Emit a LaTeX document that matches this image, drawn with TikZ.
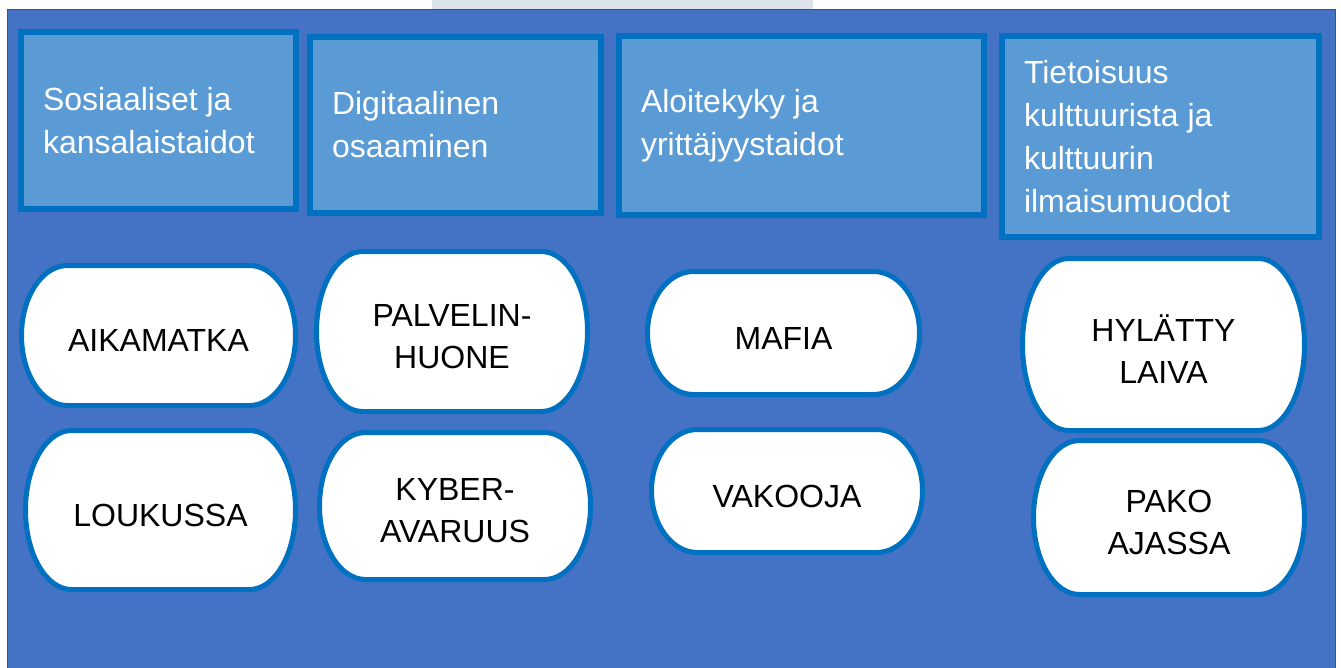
\documentclass[tikz,border=0pt]{standalone}
\usepackage{fontspec}
\setmainfont{Liberation Sans}
\definecolor{panel}{HTML}{4472C4}
\definecolor{panelline}{HTML}{2F5597}
\definecolor{hdrfill}{HTML}{5B9BD5}
\definecolor{edge}{HTML}{0070C0}
\definecolor{tab}{HTML}{DDE3EA}
\tikzset{
  hdr/.style={draw=edge, line width=6pt, fill=hdrfill, text=white, align=left,
    inner xsep=22pt, inner ysep=0pt, font=\fontsize{32}{43}\selectfont,
    execute at begin node={\spaceskip=0pt\xspaceskip=0pt\relax}},
  pillshape/.style={draw=edge, line width=5pt, fill=white},
  pilltext/.style={text=black, align=center, inner sep=0pt, font=\fontsize{32}{42}\selectfont,
    execute at begin node={\spaceskip=0pt\xspaceskip=0pt\relax}}
}
\newcommand{\hdrbox}[6]{% name, x0,y0,x1,y1, text
  \node[hdr, minimum width={#4-#2-6}, minimum height={#5-#3-6}, text width={#4-#2-6-44}]
    (#1) at ({(#2+#4)/2},{(#3+#5)/2+3}) {#6};}
\newcommand{\pill}[6]{% name, x0,y0,x1,y1, text
  \pgfmathsetmacro{\pL}{#2+2.5}\pgfmathsetmacro{\pR}{#4-2.5}
  \pgfmathsetmacro{\pT}{#3+2.5}\pgfmathsetmacro{\pB}{#5-2.5}
  \pgfmathsetmacro{\pM}{(\pT+\pB)/2}\pgfmathsetmacro{\pry}{(\pB-\pT)/2}
  \pgfmathsetmacro{\prx}{46}\pgfmathsetmacro{\pk}{0.5523}
  \draw[pillshape] (\pL+\prx,\pT) -- (\pR-\prx,\pT)
    .. controls (\pR-\prx+\pk*\prx,\pT) and (\pR,\pM-\pk*\pry) .. (\pR,\pM)
    .. controls (\pR,\pM+\pk*\pry) and (\pR-\prx+\pk*\prx,\pB) .. (\pR-\prx,\pB)
    -- (\pL+\prx,\pB)
    .. controls (\pL+\prx-\pk*\prx,\pB) and (\pL,\pM+\pk*\pry) .. (\pL,\pM)
    .. controls (\pL,\pM-\pk*\pry) and (\pL+\prx-\pk*\prx,\pT) .. (\pL+\prx,\pT) -- cycle;
  \node[pilltext] (#1) at ({(#2+#4)/2},{(#3+#5)/2+5}) {#6};}
\begin{document}
\begin{tikzpicture}[x=1pt,y=-1pt]
\useasboundingbox (0,0) rectangle (1341,667);
\fill[white] (0,0) rectangle (1341,667);
\fill[tab] (432,0) rectangle (813,9);
\filldraw[fill=panel, draw=panelline, line width=1pt] (7,9) rectangle (1335,680);
% header boxes
\hdrbox{h1}{18}{26}{299}{209}{Sosiaaliset ja\\kansalaistaidot}
\hdrbox{h2}{307}{31}{604}{213}{Digitaalinen\\osaaminen}
\hdrbox{h3}{616}{30}{987}{215}{Aloitekyky ja\\yrittäjyystaidot}
\hdrbox{h4}{999}{30}{1322}{237}{Tietoisuus\\kulttuurista ja\\kulttuurin\\ilmaisumuodot}
% pills
\pill{p1}{19}{263}{298}{408}{AIKAMATKA}
\pill{p2}{23}{428}{298}{592}{LOUKUSSA}
\pill{p3}{314}{249}{590}{414}{PALVELIN-\\HUONE}
\pill{p4}{317}{430}{593}{582}{KYBER-\\AVARUUS}
\pill{p5}{645}{269}{922}{397}{MAFIA}
\pill{p6}{649}{427}{925}{555}{VAKOOJA}
\pill{p7}{1020}{256}{1307}{433}{HYLÄTTY\\LAIVA}
\pill{p8}{1031}{438}{1307}{597}{PAKO\\AJASSA}
\end{tikzpicture}
\end{document}
